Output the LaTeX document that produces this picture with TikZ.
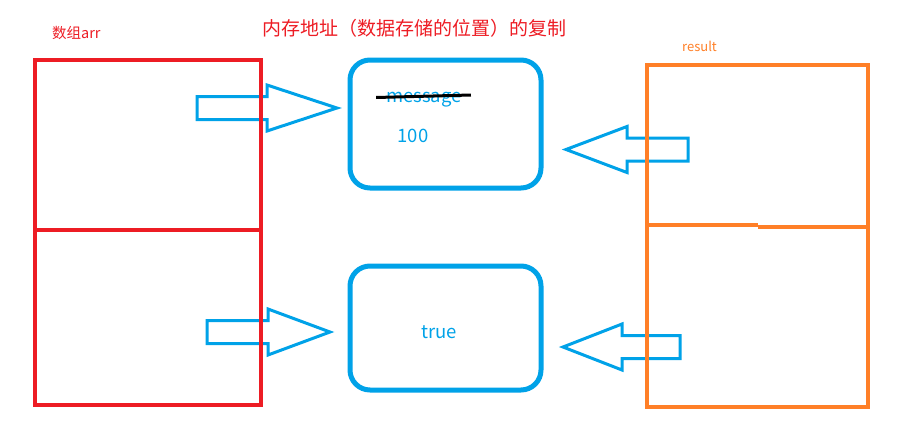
\documentclass[tikz,border=0pt]{standalone}
\usepackage{fontspec}
\setmainfont{Noto Sans CJK SC}
\usetikzlibrary{calc}
\definecolor{arrred}{HTML}{ED1C24}
\definecolor{memblue}{HTML}{00A2E8}
\definecolor{resorange}{HTML}{FF7F27}

\begin{document}
\begin{tikzpicture}[x=1pt,y=-1pt,
            arrbox/.style={draw=arrred,line width=4,minimum width=226,inner sep=0},
            membox/.style={draw=memblue,line width=5,rounded corners=20,minimum width=191,inner sep=0},
            resbox/.style={draw=resorange,line width=4,minimum width=221,minimum height=342,inner sep=0},
            blockarrow/.style={draw=memblue,line width=3,line join=miter},
            memtext/.style={text=memblue,inner sep=0,font=\fontsize{18.5}{20}\selectfont},
            strike/.style={line width=3,black}
            ]
            \useasboundingbox (0,0) rectangle (897,445);
            \def\s{11.5} % shaft half height
            \def\h{23}   % head half height

            % hollow block arrows: tail x / head base x / tip x / centre y
            \foreach \xa/\xb/\xc/\y in {197/267/337/108,207/268/330/332,688/627/566/149.5,680/622/563/347} {
                \draw[blockarrow] (\xa,\y-\s) -- (\xb,\y-\s) -- (\xb,\y-\h) -- (\xc,\y)
                    -- (\xb,\y+\h) -- (\xb,\y+\s) -- (\xa,\y+\s) -- cycle;
            }

            % array
            \node[arrbox,minimum height=170] (arrTop) at (148,145) {};
            \node[arrbox,minimum height=175] (arrBot) at (148,317.5) {};
            \node[text=arrred,anchor=west,inner sep=0,font=\fontsize{14.5}{16}\selectfont] (arrLabel) at (52,33) {数组arr};

            % memory cells
            \node[membox,minimum height=128] (memTop) at (445.5,124) {};
            \node[membox,minimum height=124] (memBot) at (445.5,328) {};
            \node[memtext] (msg) at (424,99.5) {message};
            \draw[strike] ($(msg.west)+(-10,-2)$) -- ($(msg.east)+(9,-4.5)$);
            \node[memtext] (val) at (413,136) {100};
            \node[memtext] (flag) at (439,332) {true};

            % result
            \node[resbox] (res) at (757.5,236) {};
            \coordinate (step) at (758,226);
            \draw[draw=resorange,line width=4] (res.west |- 0,225) -- (step |- 0,225)
                (step |- 0,227) -- (res.east |- 0,227);
            \node[text=resorange,anchor=west,inner sep=0,font=\fontsize{13}{15}\selectfont] (resLabel) at (682,46) {result};

            \node[text=arrred,anchor=west,inner sep=0,font=\fontsize{19}{21}\selectfont] (title) at (262,28) {内存地址（数据存储的位置）的复制};
        \end{tikzpicture}
\end{document}
